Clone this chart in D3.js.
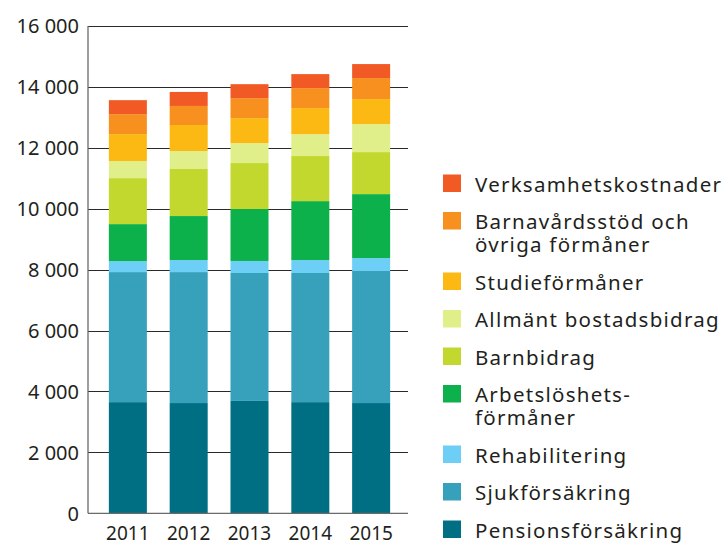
<!DOCTYPE html>
<html>
<head>
<meta charset="utf-8">
<script src="https://cdn.jsdelivr.net/npm/d3@7"></script>
<style>
  html, body { margin: 0; padding: 0; background: #fff; }
  svg { display: block; }
  text { font-family: "Noto Sans", sans-serif; fill: #231f20; }
</style>
</head>
<body>
<svg id="chart" width="727" height="543"></svg>
<script>
// ---- data ----
const years = ["2011", "2012", "2013", "2014", "2015"];
const seriesNames = [
  "Pensionsförsäkring",
  "Sjukförsäkring",
  "Rehabilitering",
  "Arbetslöshetsförmåner",
  "Barnbidrag",
  "Allmänt bostadsbidrag",
  "Studieförmåner",
  "Barnavårdsstöd och övriga förmåner",
  "Verksamhetskostnader"
];
const legendLines = [
  ["Pensionsförsäkring"],
  ["Sjukförsäkring"],
  ["Rehabilitering"],
  ["Arbetslöshets-", "förmåner"],
  ["Barnbidrag"],
  ["Allmänt bostadsbidrag"],
  ["Studieförmåner"],
  ["Barnavårdsstöd och", "övriga förmåner"],
  ["Verksamhetskostnader"]
];
const pension      = [3650, 3620, 3690, 3650, 3620];
const sjuk         = [4270, 4300, 4200, 4240, 4335];
const rehab        = [360, 395, 395, 425, 425];
const arbetsloshet = [1215, 1445, 1705, 1935, 2100];
const barnbidrag   = [1510, 1545, 1510, 1480, 1380];
const bostad       = [560, 590, 655, 720, 920];
const studie       = [885, 855, 820, 855, 820];
const barnavard    = [655, 625, 655, 655, 690];
const verksamhet   = [460, 460, 460, 460, 460];
const seriesValues = [pension, sjuk, rehab, arbetsloshet, barnbidrag, bostad, studie, barnavard, verksamhet];
const colors = ["#006f83", "#37a0ba", "#6dcff6", "#0db14b", "#c2d82e", "#e0ef8a", "#fdb913", "#f7901e", "#f15a24"];
const yTicks = [0, 2000, 4000, 6000, 8000, 10000, 12000, 14000, 16000];

// ---- build table ----
const table = years.map((yr, i) => {
  const row = { year: yr };
  seriesNames.forEach((s, j) => row[s] = seriesValues[j][i]);
  return row;
});
const stacked = d3.stack().keys(seriesNames)(table);

const svg = d3.select("#chart");
const y = d3.scaleLinear().domain([0, 16000]).range([513.3, 26]);
const x = d3.scaleBand().domain(years).range([90, 409]).paddingInner(0.375).paddingOuter(0.31);
const plotLeft = 88, plotRight = 408;

// gridlines
svg.append("g").selectAll("line").data(yTicks.filter(d => d > 0)).join("line")
  .attr("x1", plotLeft).attr("x2", plotRight)
  .attr("y1", d => Math.round(y(d)) + 0.5).attr("y2", d => Math.round(y(d)) + 0.5)
  .attr("stroke", "#2a2a2a").attr("stroke-width", 1);

// bars
svg.append("g").selectAll("g").data(stacked).join("g")
  .attr("fill", (d, i) => colors[i])
  .selectAll("rect").data(d => d).join("rect")
  .attr("x", d => x(d.data.year))
  .attr("width", x.bandwidth())
  .attr("y", d => y(d[1]))
  .attr("height", d => y(d[0]) - y(d[1]));

// axes lines
svg.append("line").attr("x1", plotLeft).attr("x2", plotLeft)
  .attr("y1", y(16000)).attr("y2", y(0))
  .attr("stroke", "#6a6a6a").attr("stroke-width", 1.3);
svg.append("line").attr("x1", plotLeft).attr("x2", plotRight)
  .attr("y1", y(0)).attr("y2", y(0))
  .attr("stroke", "#6a6a6a").attr("stroke-width", 1.3);

// y labels
const fmt = v => d3.format(",")(v).replace(/,/g, " ");
svg.append("g").selectAll("text").data(yTicks).join("text")
  .attr("x", 79).attr("y", d => y(d))
  .attr("dy", "0.36em")
  .attr("text-anchor", "end")
  .attr("font-size", 20)
  .text(d => fmt(d));

// x labels
svg.append("g").selectAll("text").data(years).join("text")
  .attr("x", d => x(d) + x.bandwidth() / 2).attr("y", 540)
  .attr("text-anchor", "middle")
  .attr("font-size", 19)
  .text(d => d);

// legend (top to bottom = reversed stack order)
const legendOrder = d3.range(seriesNames.length).reverse();
let ly = 174.5;
const lg = svg.append("g");
legendOrder.forEach(i => {
  const g = lg.append("g").attr("transform", `translate(0,${ly})`);
  g.append("rect").attr("x", 443).attr("y", 0).attr("width", 18).attr("height", 17.5).attr("fill", colors[i]);
  legendLines[i].forEach((line, k) => {
    g.append("text").attr("x", 475).attr("y", 17.3 + 22.5 * k)
      .attr("font-size", 20.5)
      .attr("letter-spacing", 1.25)
      .text(line);
  });
  ly += 37.5 + 23 * (legendLines[i].length - 1);
});
</script>
</body>
</html>
